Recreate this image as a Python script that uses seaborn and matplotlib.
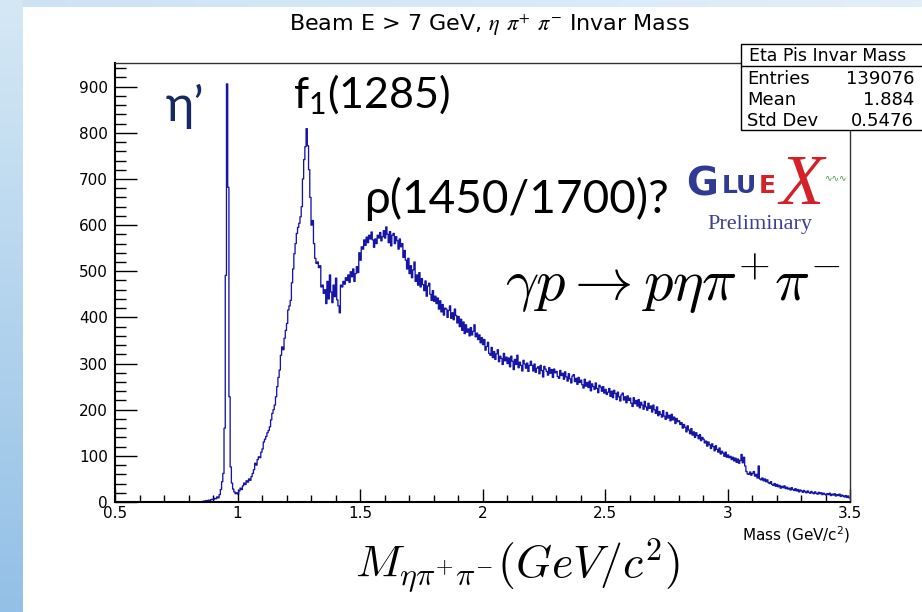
import numpy as np
import pandas as pd
import matplotlib
matplotlib.use("Agg")
import matplotlib.pyplot as plt
import seaborn as sns
from matplotlib.ticker import MultipleLocator
from matplotlib.patches import Rectangle
from matplotlib.colors import LinearSegmentedColormap

# ---- histogram definition: eta pi+ pi- invariant mass, 5 MeV bins ----
mass_lo, mass_hi, n_bins = 0.5, 3.5, 600

# entries per bin, one row per 0.1 GeV
counts = [
    0, 0, 0, 0, 0, 0, 0, 0, 0, 0, 0, 0, 0, 0, 0, 0, 0, 0, 0, 0,
    0, 0, 0, 0, 0, 0, 0, 0, 0, 0, 0, 0, 0, 0, 0, 0, 0, 0, 0, 0,
    0, 0, 0, 0, 0, 0, 0, 0, 0, 0, 0, 0, 0, 0, 0, 0, 0, 0, 0, 0,
    0, 0, 0, 0, 0, 0, 0, 0, 0, 0, 0, 1, 2, 1, 3, 2, 4, 3, 5, 6,
    5, 8, 7, 11, 9, 16, 27, 44, 62, 160, 491, 906, 682, 228, 76, 41, 28, 22, 18, 20,
    17, 24, 30, 27, 35, 41, 38, 46, 43, 50, 47, 55, 62, 70, 84, 80, 92, 98, 96, 108,
    115, 130, 136, 142, 150, 155, 163, 178, 192, 200, 210, 228, 250, 270, 286, 318, 336, 330, 355, 372,
    387, 416, 425, 437, 475, 505, 538, 560, 582, 595, 604, 618, 640, 700, 742, 770, 809, 772, 720, 660,
    600, 610, 560, 528, 517, 520, 508, 512, 466, 470, 452, 460, 430, 478, 440, 492, 455, 432, 470, 445,
    485, 438, 425, 410, 470, 466, 478, 472, 486, 480, 492, 476, 499, 488, 505, 478, 495, 510, 497, 540,
    524, 553, 548, 568, 556, 574, 562, 578, 570, 585, 568, 552, 570, 560, 578, 572, 584, 566, 575, 588,
    572, 596, 580, 562, 586, 555, 578, 582, 560, 575, 566, 548, 570, 553, 560, 530, 545, 524, 505, 528,
    495, 512, 486, 503, 520, 478, 492, 470, 497, 466, 484, 471, 458, 479, 446, 468, 474, 450, 437, 458,
    435, 446, 430, 442, 418, 436, 412, 428, 405, 420, 418, 400, 415, 425, 398, 410, 395, 418, 404, 388,
    402, 380, 396, 372, 390, 365, 384, 368, 375, 360, 378, 362, 370, 384, 358, 366, 352, 362, 345, 356,
    341, 352, 329, 337, 346, 322, 318, 335, 313, 326, 309, 321, 330, 304, 316, 311, 298, 322, 306, 314,
    300, 312, 293, 316, 305, 287, 309, 298, 318, 291, 303, 296, 284, 307, 299, 290, 301, 283, 296, 305,
    296, 284, 299, 281, 290, 293, 278, 296, 285, 271, 294, 288, 283, 275, 291, 279, 287, 270, 288, 280,
    283, 272, 268, 285, 274, 279, 266, 282, 271, 262, 278, 267, 258, 273, 276, 261, 268, 255, 270, 259,
    264, 254, 247, 266, 251, 259, 248, 262, 241, 256, 250, 244, 258, 246, 237, 253, 249, 240, 250, 236,
    244, 233, 238, 246, 229, 240, 226, 242, 235, 222, 238, 228, 219, 232, 236, 221, 228, 215, 230, 220,
    225, 214, 207, 226, 213, 220, 208, 222, 204, 216, 210, 201, 218, 206, 199, 214, 203, 208, 195, 210,
    200, 192, 206, 187, 196, 190, 184, 198, 186, 179, 194, 182, 188, 176, 190, 178, 184, 170, 181, 174,
    176, 168, 172, 160, 168, 162, 152, 165, 156, 148, 159, 145, 152, 140, 150, 144, 137, 146, 133, 140,
    136, 128, 132, 121, 130, 124, 116, 126, 120, 111, 122, 114, 108, 117, 104, 110, 106, 99, 108, 97,
    102, 96, 99, 92, 97, 89, 95, 86, 93, 84, 90, 103, 85, 97, 78, 66, 61, 60, 65, 58,
    62, 66, 56, 60, 52, 78, 50, 48, 52, 46, 50, 44, 48, 42, 40, 44, 38, 36, 40, 34,
    38, 33, 36, 30, 34, 31, 35, 29, 32, 28, 30, 26, 31, 27, 25, 29, 24, 27, 22, 26,
    24, 21, 25, 22, 20, 24, 21, 19, 23, 20, 18, 22, 19, 17, 21, 18, 20, 16, 19, 17,
    15, 18, 16, 19, 14, 17, 15, 18, 13, 16, 14, 17, 12, 15, 13, 11, 14, 10, 13, 9,
]
assert len(counts) == n_bins

x_ticks = [0.5, 1.0, 1.5, 2.0, 2.5, 3.0, 3.5]
x_tick_labels = ["0.5", "1", "1.5", "2", "2.5", "3", "3.5"]
y_ticks = [0, 100, 200, 300, 400, 500, 600, 700, 800, 900]
y_tick_labels = [str(v) for v in y_ticks]

stats_name = "Eta Pis Invar Mass"
stats_rows = [("Entries", "139076"), ("Mean", "1.884"), ("Std Dev", "0.5476")]

title = r"Beam E > 7 GeV, $\eta$ $\pi^{+}$ $\pi^{-}$ Invar Mass"

# ---- style ----
sns.set_theme(style="white")
plt.rcParams["font.family"] = ["DejaVu Sans"]
plt.rcParams["text.color"] = "black"
plt.rcParams["axes.labelcolor"] = "black"
plt.rcParams["xtick.color"] = "black"
plt.rcParams["ytick.color"] = "black"

W, H = 922, 612
fig = plt.figure(figsize=(W / 100, H / 100), dpi=100)
fig.patch.set_facecolor("white")

# slide background: blue strip on the left, light band on top
bg = fig.add_axes([0, 0, 1, 1], zorder=-10)
bg.set_xlim(0, W)
bg.set_ylim(H, 0)
bg.axis("off")
strip_cmap = LinearSegmentedColormap.from_list("strip", ["#d5e8f5", "#93c0e6"])
band_cmap = LinearSegmentedColormap.from_list("band", ["#cde3f3", "#e2eff9"])
bg.imshow(np.linspace(0, 1, 256).reshape(-1, 1), extent=(0, 22, H, 0),
          cmap=strip_cmap, aspect="auto", interpolation="bilinear")
bg.imshow(np.linspace(0, 1, 256).reshape(1, -1), extent=(22, W, 7, 0),
          cmap=band_cmap, aspect="auto", interpolation="bilinear")

# ---- histogram frame ----
ax_l, ax_r, ax_t, ax_b = 115, 850, 63, 502
ax = fig.add_axes([ax_l / W, 1 - ax_b / H, (ax_r - ax_l) / W, (ax_b - ax_t) / H])
ax.set_facecolor("white")

edges = np.linspace(mass_lo, mass_hi, n_bins + 1)
df = pd.DataFrame({"mass": 0.5 * (edges[:-1] + edges[1:]), "entries": counts})
sns.histplot(data=df, x="mass", weights="entries", bins=edges.tolist(),
             element="step", fill=False, color="#1515a8", linewidth=0.95, ax=ax)

ax.set_xlim(mass_lo, mass_hi)
ax.set_ylim(0, 1.05 * max(counts))
ax.set_xlabel("")
ax.set_ylabel("")
ax.set_xticks(x_ticks)
ax.set_xticklabels(x_tick_labels)
ax.set_yticks(y_ticks)
ax.set_yticklabels(y_tick_labels)
ax.xaxis.set_minor_locator(MultipleLocator(0.1))
ax.yaxis.set_minor_locator(MultipleLocator(20))
ax.tick_params(axis="x", which="major", direction="in", length=9.4, width=1.0,
               color="black", labelcolor="black", labelsize=11, pad=3,
               bottom=True, top=False)
ax.tick_params(axis="x", which="minor", direction="in", length=4.7, width=1.0,
               color="black", bottom=True, top=False)
ax.tick_params(axis="y", which="major", direction="in", length=15.6, width=1.0,
               color="black", labelcolor="black", labelsize=11, pad=5,
               left=True, right=False)
ax.tick_params(axis="y", which="minor", direction="in", length=7.9, width=1.0,
               color="black", left=True, right=False)
for side in ("top", "right"):
    ax.spines[side].set_color("#333333")
    ax.spines[side].set_linewidth(1.0)
for side in ("bottom", "left"):
    ax.spines[side].set_color("black")
    ax.spines[side].set_linewidth(1.5)

# ---- overlay layer for title, stats box and annotations ----
ov = fig.add_axes([0, 0, 1, 1], zorder=5)
ov.set_xlim(0, W)
ov.set_ylim(H, 0)
ov.axis("off")
ov.patch.set_alpha(0)

ov.text(489, 25, title, ha="center", va="center", fontsize=16,
        color="black", math_fontfamily="stix")

# statistics box
ov.add_patch(Rectangle((741, 44), 200, 86, facecolor="white",
                       edgecolor="black", linewidth=1.0))
ov.plot([741, 922], [66, 66], color="black", linewidth=1.0)
ov.text(828, 56, stats_name, ha="center", va="center", fontsize=12.5,
        color="black")
for (label, value), yc in zip(stats_rows, [79, 100, 121]):
    ov.text(747, yc, label, ha="left", va="center", fontsize=13, color="black")
    ov.text(914, yc, value, ha="right", va="center", fontsize=13, color="black")

ov.text(850, 535, r"Mass (GeV/c$^{2}$)", ha="right", va="center",
        fontsize=11, color="black", math_fontfamily="dejavusans")

# resonance annotations
ann_font = ["Lato", "DejaVu Sans"]
ov.text(166, 121, "η’", color="#152a62", fontsize=35, family=ann_font,
        ha="left", va="baseline")
ov.text(293, 108, r"f$_{\mathregular{1}}$(1285)", color="black", fontsize=31,
        family=ann_font, ha="left", va="baseline")
ov.text(364, 213, "ρ(1450/1700)?", color="black", fontsize=33,
        family=ann_font, ha="left", va="baseline")
ov.text(505, 301, r"$\gamma p \rightarrow p\eta\pi^{+}\pi^{-}$", color="black",
        fontsize=42, math_fontfamily="cm", ha="left", va="baseline")
ov.text(517, 566, r"$M_{\eta\pi^{+}\pi^{-}}(GeV/c^{2})$", color="black",
        fontsize=33, math_fontfamily="cm", ha="center", va="center")

# experiment logo
logo_blue = "#2e3a93"
logo_red = "#d42028"
ov.text(686, 196, "G", color=logo_blue, fontsize=28, weight="heavy",
        ha="left", va="baseline")
ov.text(722, 193, "LU", color=logo_blue, fontsize=18, weight="heavy",
        ha="left", va="baseline")
ov.text(759, 193, "E", color=logo_red, fontsize=18, weight="heavy",
        ha="left", va="baseline")
ov.text(779, 204, "X", color=logo_red, fontsize=52, style="italic",
        family="Liberation Serif", ha="left", va="baseline")
ov.text(824, 178, "∿∿∿", color="#3c9a3c", fontsize=6.5, ha="left", va="center")
ov.text(760, 224, "Preliminary", color="#3b3f98", fontsize=16,
        family="Liberation Serif", ha="center", va="center")

fig.savefig("out.png", dpi=100, facecolor="white")
